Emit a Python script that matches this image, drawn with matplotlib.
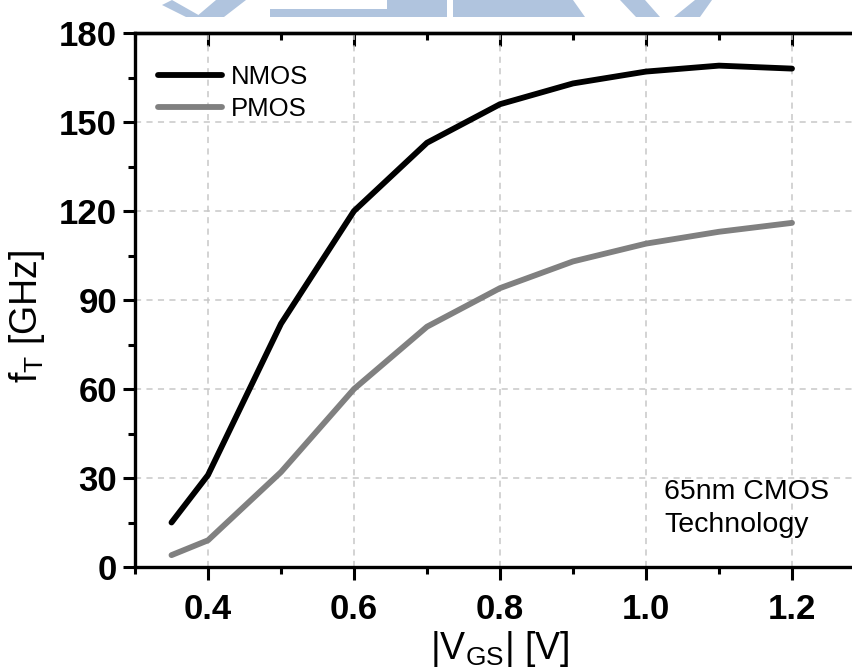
import matplotlib
matplotlib.use('Agg')
import matplotlib.pyplot as plt
from matplotlib.ticker import MultipleLocator, FormatStrFormatter
from matplotlib.patches import Polygon

plt.rcParams['font.family'] = ['Liberation Sans', 'DejaVu Sans']
plt.rcParams['mathtext.default'] = 'regular'

# data
vgs = [0.35, 0.4, 0.5, 0.6, 0.7, 0.8, 0.9, 1.0, 1.1, 1.2]
ft_nmos = [15, 31, 82, 120, 143, 156, 163, 167, 169, 168]
ft_pmos = [4, 9, 32, 60, 81, 94, 103, 109, 113, 116]
series_names = ['NMOS', 'PMOS']
note = '65nm CMOS\nTechnology'

W, H = 852, 669
fig = plt.figure(figsize=(W / 100, H / 100), dpi=100)

# faint watermark at the top (pixel coords, y from top)
wm = [
    [(162, 5), (172, 0), (202, 17), (186, 17)],
    [(196, 17), (216, 0), (246, 0), (224, 17)],
    [(270, 9), (387, 9), (387, 17), (270, 17)],
    [(387, 0), (447, 0), (447, 17), (387, 17)],
    [(453, 0), (573, 0), (585, 17), (453, 17)],
    [(620, 0), (645, 0), (660, 17), (636, 17)],
    [(674, 17), (695, 0), (712, 0), (700, 17)],
]
for shp in wm:
    pts = [(x / W, 1 - y / H) for x, y in shp]
    fig.patches.append(Polygon(pts, closed=True, transform=fig.transFigure,
                               facecolor='#b0c4de', edgecolor='none', zorder=0))

ax = fig.add_axes([135 / W, 102 / H, 730 / W, 534 / H])

ax.plot(vgs, ft_nmos, color='black', lw=4.2, solid_capstyle='round', label=series_names[0], zorder=3)
ax.plot(vgs, ft_pmos, color='#808080', lw=4.2, solid_capstyle='round', label=series_names[1], zorder=3)

ax.set_xlim(0.3, 1.3)
ax.set_ylim(0, 180)
ax.xaxis.set_major_locator(MultipleLocator(0.2))
ax.xaxis.set_minor_locator(MultipleLocator(0.1))
ax.yaxis.set_major_locator(MultipleLocator(30))
ax.yaxis.set_minor_locator(MultipleLocator(15))
ax.xaxis.set_major_formatter(FormatStrFormatter('%.1f'))
ax.set_xticks([0.4, 0.6, 0.8, 1.0, 1.2])

ax.grid(True, which='major', color='#c8c8c8', ls=(0, (4, 3.5)), lw=1.1)
ax.set_axisbelow(True)

for s in ax.spines.values():
    s.set_linewidth(2.4)

ax.tick_params(which='major', direction='out', length=9, width=2.2, labelsize=25)
ax.tick_params(which='minor', direction='out', length=5, width=2.2)
ax.tick_params(axis='x', which='major', pad=10)
ax.tick_params(axis='y', which='major', pad=4)
for lab in ax.get_xticklabels() + ax.get_yticklabels():
    lab.set_fontweight('bold')

# mirrored axes on top and right with inward ticks
top = ax.secondary_xaxis('top')
top.set_xticks([0.4, 0.6, 0.8, 1.0, 1.2])
top.xaxis.set_minor_locator(MultipleLocator(0.1))
top.tick_params(which='major', direction='in', length=9, width=2.2, labeltop=False)
top.tick_params(which='minor', direction='in', length=5, width=2.2)
top.spines['top'].set_linewidth(2.4)
right = ax.secondary_yaxis('right')
right.set_yticks([0, 30, 60, 90, 120, 150, 180])
right.yaxis.set_minor_locator(MultipleLocator(15))
right.tick_params(which='major', direction='in', length=9, width=2.2, labelright=False)
right.tick_params(which='minor', direction='in', length=5, width=2.2)
right.spines['right'].set_linewidth(2.4)

ax.set_xlabel('|V$_{GS}$| [V]', fontsize=27, labelpad=2)
ax.set_ylabel('f$_T$ [GHz]', fontsize=27)
ax.yaxis.set_label_coords(-0.12, 0.47)

ax.legend(loc='upper left', bbox_to_anchor=(0.031, 0.94), frameon=False,
          fontsize=18.5, handlelength=2.5, handletextpad=0.35,
          labelspacing=0.3, borderpad=0, borderaxespad=0)

ax.text(0.725, 0.165, note, transform=ax.transAxes, fontsize=20.5,
        va='top', ha='left', linespacing=1.35)

fig.savefig('out.png', dpi=100)
